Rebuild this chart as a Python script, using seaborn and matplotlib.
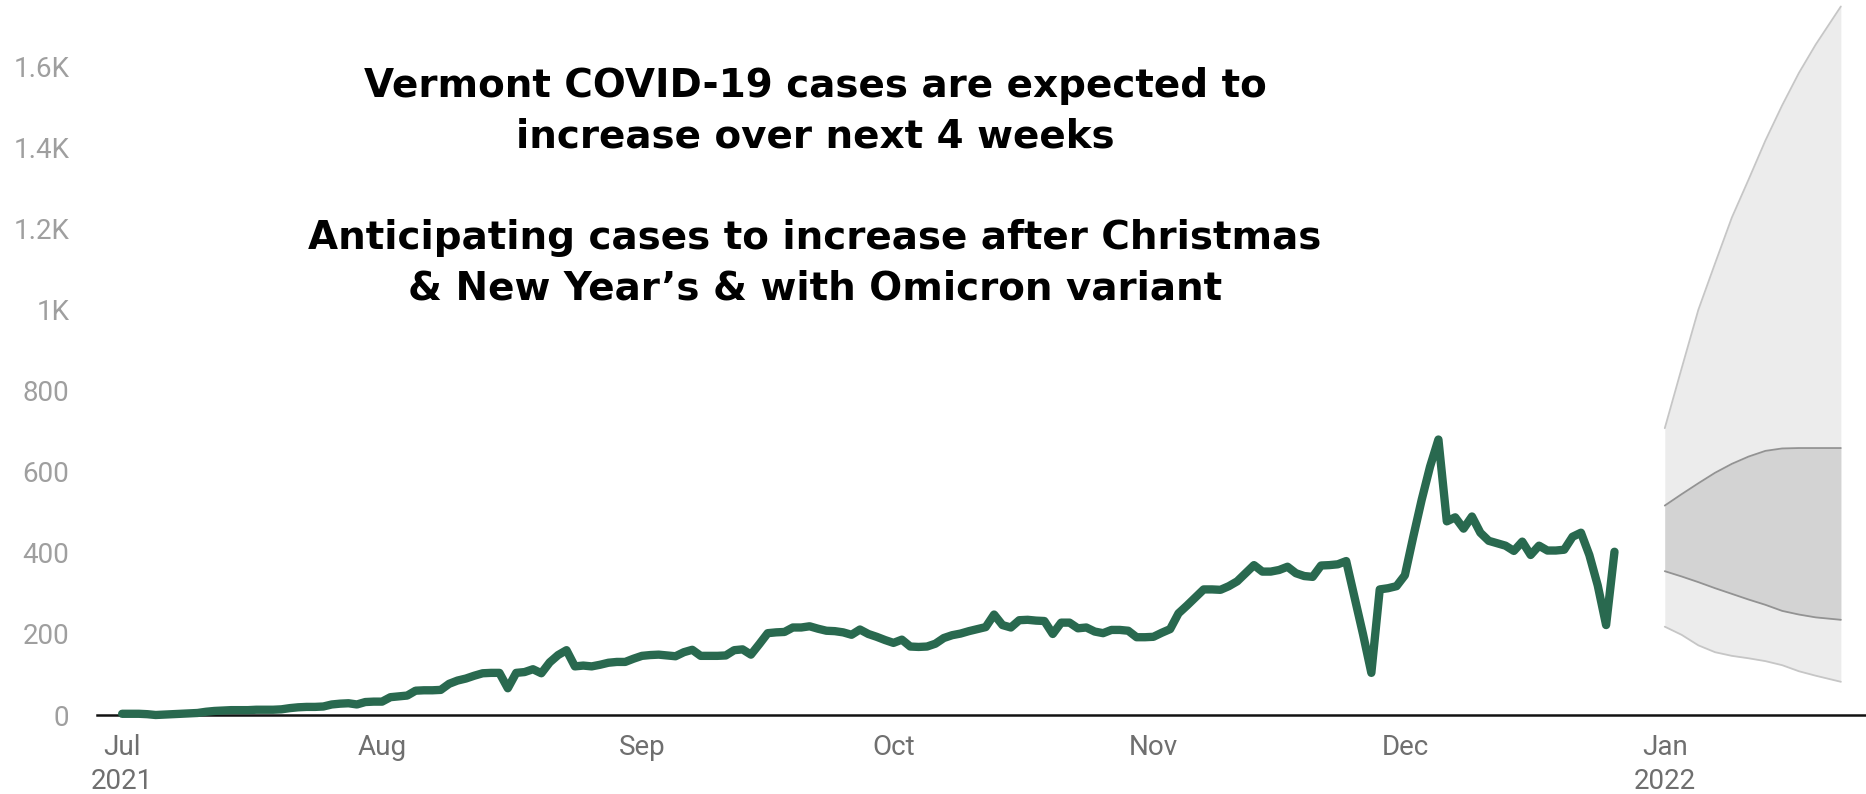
import pandas as pd
import numpy as np
import matplotlib
matplotlib.use("Agg")
import matplotlib.pyplot as plt
import matplotlib.dates as mdates
import seaborn as sns

# daily cases, Jul 1 - Dec 26 2021
jul = [3, 3, 3, 2, 0, 1, 2, 3, 4, 5, 8, 10, 11, 12, 12, 12, 13, 13, 13, 14, 17, 19, 20, 20, 21, 26, 28, 29, 26, 32, 33]
aug = [33, 44, 46, 48, 60, 61, 61, 62, 77, 85, 90, 97, 103, 104, 104, 66, 104, 106, 113, 103, 130, 148, 160, 120, 122, 120, 124, 129, 131, 131, 139]
sep = [146, 148, 149, 147, 145, 155, 161, 146, 146, 146, 147, 160, 162, 149, 175, 202, 204, 205, 216, 216, 219, 213, 208, 207, 204, 198, 211, 200, 193, 185]
oct_ = [178, 186, 169, 168, 169, 176, 190, 197, 201, 207, 212, 217, 248, 222, 216, 234, 235, 233, 232, 200, 228, 228, 214, 216, 206, 202, 210, 210, 208, 192, 192]
nov = [193, 203, 212, 251, 270, 290, 310, 310, 309, 318, 330, 350, 370, 354, 354, 358, 366, 350, 343, 341, 369, 370, 372, 380, 290, 200, 104, 310, 313, 318]
dec = [345, 440, 531, 613, 680, 478, 488, 460, 490, 450, 430, 424, 418, 405, 428, 395, 418, 406, 406, 408, 440, 450, 395, 320, 222, 403]

# forecast bands
fc_dates = ["2022-01-01", "2022-01-03", "2022-01-05", "2022-01-07", "2022-01-09", "2022-01-11",
            "2022-01-13", "2022-01-15", "2022-01-17", "2022-01-19", "2022-01-22"]
outer_hi = [708, 855, 1000, 1115, 1228, 1322, 1418, 1505, 1585, 1655, 1749]
inner_hi = [517, 545, 572, 598, 620, 638, 652, 658, 659, 659, 659]
inner_lo = [355, 342, 328, 313, 299, 285, 272, 257, 248, 241, 235]
outer_lo = [218, 198, 172, 155, 146, 140, 133, 123, 108, 97, 82]

y_ticks = [0, 200, 400, 600, 800, 1000, 1200, 1400, 1600]
y_labels = ["0", "200", "400", "600", "800", "1K", "1.2K", "1.4K", "1.6K"]
x_labels = ["Jul\n2021", "Aug", "Sep", "Oct", "Nov", "Dec", "Jan\n2022"]

title_lines = ["Vermont COVID-19 cases are expected to",
               "increase over next 4 weeks",
               "Anticipating cases to increase after Christmas",
               "& New Year\u2019s & with Omicron variant"]

cases = jul + aug + sep + oct_ + nov + dec
df = pd.DataFrame({"date": pd.date_range("2021-07-01", periods=len(cases), freq="D"),
                   "cases": cases})
fc = pd.DataFrame({"date": pd.to_datetime(fc_dates), "outer_hi": outer_hi, "inner_hi": inner_hi,
                   "inner_lo": inner_lo, "outer_lo": outer_lo})

sns.set_style("white")
plt.rcParams["font.family"] = ["Roboto", "DejaVu Sans"]

W, H = 1866, 794
fig = plt.figure(figsize=(W / 100, H / 100), dpi=100)
ax = fig.add_axes([97 / W, (H - 715) / H, (W - 97) / W, 715 / H])

# forecast bands
ax.fill_between(fc["date"], fc["outer_lo"], fc["outer_hi"], color="#ececec", lw=0)
ax.fill_between(fc["date"], fc["inner_lo"], fc["inner_hi"], color="#d3d3d3", lw=0)
for col, c in [("outer_hi", "#c6c6c6"), ("outer_lo", "#c6c6c6"), ("inner_hi", "#939393"), ("inner_lo", "#939393")]:
    sns.lineplot(data=fc, x="date", y=col, ax=ax, color=c, lw=1.3)

sns.lineplot(data=df, x="date", y="cases", ax=ax, color="#29694f", lw=6,
             solid_joinstyle="round", solid_capstyle="round", clip_on=False, zorder=5)

ax.set_xlim(pd.Timestamp("2021-06-28"), pd.Timestamp("2022-01-25"))
ax.set_ylim(0, 1765)

ax.xaxis.set_major_locator(mdates.MonthLocator())
ax.set_xticks(ax.get_xticks())
ax.set_xticklabels(x_labels, fontsize=20, color="#6f6f6f", va="top", linespacing=1.3,
                   multialignment="center")
ax.set_yticks(y_ticks)
ax.set_yticklabels(y_labels, fontsize=20, color="#9f9f9f")
ax.tick_params(axis="x", length=0, pad=14)
ax.tick_params(axis="y", length=9, width=1.2, color="#dcdcdc", pad=11, direction="out")
ax.set(xlabel=None, ylabel=None)

for s in ["top", "right", "left"]:
    ax.spines[s].set_visible(False)
ax.spines["bottom"].set_color("#111111")
ax.spines["bottom"].set_linewidth(1.8)

for txt, yy in zip(title_lines, [86, 137, 238, 289]):
    fig.text(815 / W, 1 - yy / H, txt, ha="center", va="center", fontsize=28,
             fontweight="bold", family="DejaVu Sans", color="black")

fig.savefig("out.png", dpi=100)
